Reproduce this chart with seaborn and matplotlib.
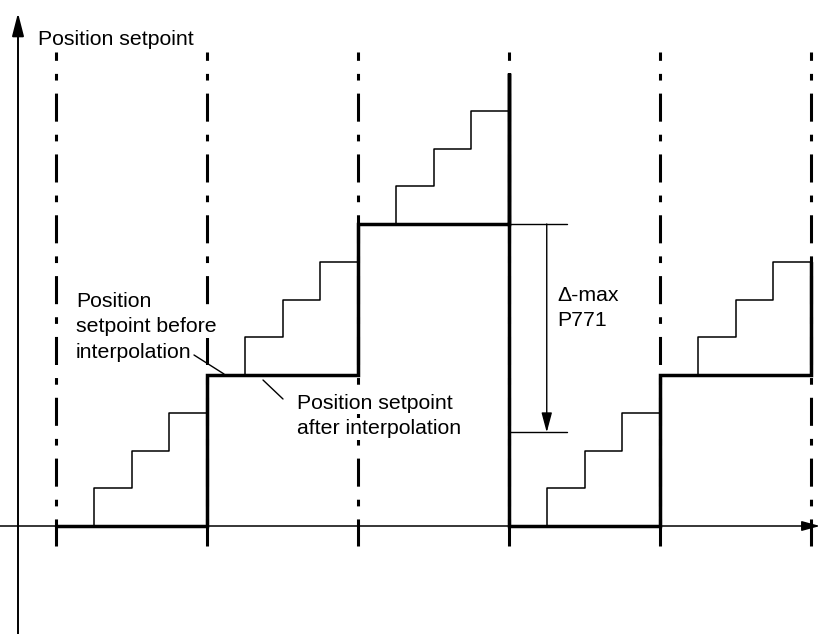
import pandas as pd
import seaborn as sns
import matplotlib.pyplot as plt

# -- Data: time in interpolation cycles, position in setpoint units
clock_edges = [0, 1, 2, 3, 4, 5]
cycle_start = [0, 1, 2, 3, 4]
held_level = [0, 1, 2, 0, 1]      # setpoint held over each cycle (bold line)
next_level = [1, 2, 3, 1, 2]      # level the fine staircase climbs towards
fine_steps = 4

delta_max_top = 2.0
delta_max_bottom = 0.62
delta_max_x = 3.25

# -- Layout helpers (pixel geometry of the sheet)
W, H = 821, 634
X0, Y0, UNIT = 56, 526, 151


def t_of(px):
    return (px - X0) / UNIT


def v_of(py):
    return (Y0 - py) / UNIT


# -- Build the two step curves
fine_rows = []
for k, t0 in enumerate(cycle_start):
    v0 = held_level[k]
    dv = (next_level[k] - v0) / fine_steps
    pts = [(t0, v0)]
    for j in range(1, fine_steps):
        tj = t0 + j / fine_steps
        pts += [(tj, v0 + (j - 1) * dv), (tj, v0 + j * dv)]
    pts.append((t0 + 1, v0 + (fine_steps - 1) * dv))
    for t, v in pts:
        fine_rows.append({"cycle": k, "t": t, "v": v})
fine = pd.DataFrame(fine_rows)

bold_rows = []
for k, t0 in enumerate(cycle_start):
    v0 = held_level[k]
    bold_rows += [(t0, v0), (t0 + 1, v0)]
    if k < len(cycle_start) - 1:
        bold_rows.append((t0 + 1, next_level[k]))
    else:
        dv = (next_level[k] - v0) / fine_steps
        bold_rows.append((t0 + 1, v0 + (fine_steps - 1) * dv))
bold = pd.DataFrame(bold_rows, columns=["t", "v"])

# -- Plot
sns.set_theme(style="white")
plt.rcParams["font.family"] = ["Liberation Sans", "DejaVu Sans"]
plt.rcParams["lines.scale_dashes"] = False

fig = plt.figure(figsize=(W / 100, H / 100), dpi=100)
ax = fig.add_axes([0, 0, 1, 1])
ax.set_xlim(t_of(0), t_of(W))
ax.set_ylim(v_of(H), v_of(0))
ax.set_axis_off()

# interpolation clock (dash-dot)
dashdot = (14.2, (20.2, 9.4, 4.8, 9.4))
for te in clock_edges:
    ax.plot([te, te], [v_of(52), v_of(546)], color="black", lw=2.2,
            linestyle=dashdot, zorder=2)

# axes with arrows
ax.annotate("", xy=(t_of(18), v_of(13)), xytext=(t_of(18), v_of(H + 2)),
            arrowprops=dict(arrowstyle="-|>,head_length=1.4,head_width=0.36",
                            mutation_scale=10, lw=1.4, color="black",
                            shrinkA=0, shrinkB=0), annotation_clip=False)
ax.annotate("", xy=(t_of(W - 1), 0), xytext=(t_of(0), 0),
            arrowprops=dict(arrowstyle="-|>,head_length=1.1,head_width=0.3",
                            mutation_scale=10, lw=1.1, color="black",
                            shrinkA=0, shrinkB=0), annotation_clip=False)

# fine staircase and held setpoint
sns.lineplot(data=fine, x="t", y="v", units="cycle", estimator=None, sort=False,
             color="black", lw=1.1, ax=ax, zorder=3, legend=False)
sns.lineplot(data=bold, x="t", y="v", estimator=None, sort=False,
             color="black", lw=2.5, ax=ax, zorder=4, legend=False,
             solid_joinstyle="miter")

# delta-max dimension
tick_end = t_of(567)
for lvl in (delta_max_top, delta_max_bottom):
    ax.plot([3, tick_end], [lvl, lvl], color="black", lw=1.0, zorder=3)
ax.annotate("", xy=(delta_max_x, delta_max_bottom), xytext=(delta_max_x, delta_max_top),
            arrowprops=dict(arrowstyle="-|>,head_length=1.2,head_width=0.32",
                            mutation_scale=10, lw=1.0, color="black",
                            shrinkA=0, shrinkB=0))

# text
fs = 15.3


def block(lines, px, py, mask=False):
    for i, s in enumerate(lines):
        kw = {}
        if mask:
            kw["bbox"] = dict(facecolor="white", edgecolor="none", pad=1.0)
        ax.annotate(s, xy=(t_of(px), v_of(py)), xytext=(0, -i * 18.3),
                    textcoords="offset points", fontsize=fs, va="baseline",
                    ha="left", color="black", zorder=3.5, **kw)


block(["Position setpoint"], 38, 45)
block(["Position", "setpoint before", "interpolation"], 76, 307, mask=True)
block(["Position setpoint", "after interpolation"], 297, 409, mask=True)
block(["\u0394-max", "P771"], 557, 301)

# leader lines
ax.plot([t_of(194), t_of(224)], [v_of(355), v_of(374)], color="black", lw=1.0)
ax.plot([t_of(263), t_of(283)], [v_of(380), v_of(399)], color="black", lw=1.0)

fig.savefig("out.png", dpi=100, facecolor="white")
